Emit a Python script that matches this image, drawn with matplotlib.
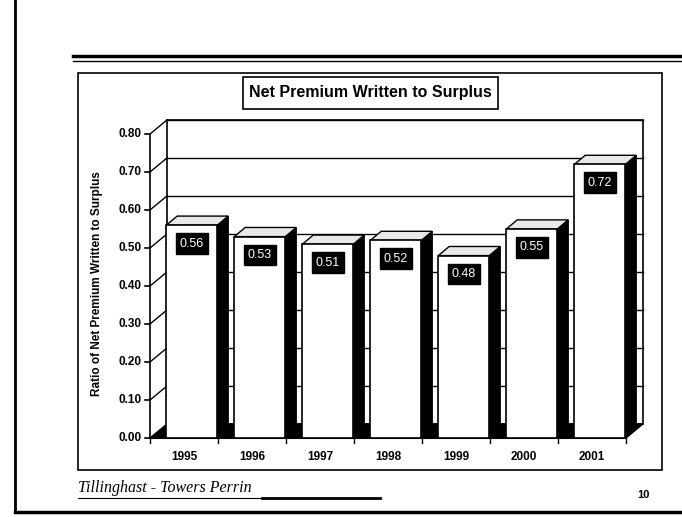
import matplotlib
matplotlib.use("Agg")
import matplotlib.pyplot as plt
from matplotlib.patches import Polygon, Rectangle

# data
years = ["1995", "1996", "1997", "1998", "1999", "2000", "2001"]
ratios = [0.56, 0.53, 0.51, 0.52, 0.48, 0.55, 0.72]
yticks = [0.0, 0.1, 0.2, 0.3, 0.4, 0.5, 0.6, 0.7, 0.8]

W, H = 682, 517
fig = plt.figure(figsize=(W / 100, H / 100), dpi=100)
fig.patch.set_facecolor("white")

# page furniture drawn in pixel space
page = fig.add_axes([0, 0, 1, 1])
page.set_xlim(0, W)
page.set_ylim(H, 0)
page.axis("off")
page.plot([15, 15], [0, 512], color="black", lw=2.0)
page.plot([15, W], [512, 512], color="black", lw=2.5)
page.plot([73, W], [56, 56], color="black", lw=2.5)
page.plot([73, W], [61, 61], color="black", lw=1.0)
page.add_patch(Rectangle((78, 73), 584, 397, fill=False, ec="black", lw=1.2))
page.add_patch(Rectangle((243, 77), 255, 32, fc="white", ec="black", lw=1.2))
page.text(370, 93, "Net Premium Written to Surplus", ha="center", va="center",
          fontsize=11.5, fontweight="bold", family="Liberation Sans")
page.text(97, 284, "Ratio of Net Premium Written to Surplus", rotation=90,
          ha="center", va="center", fontsize=8.5, fontweight="bold",
          family="Liberation Sans")
page.text(78, 488, "Tillinghast - Towers Perrin", ha="left", va="center",
          fontsize=11.5, style="italic", family="Liberation Serif")
page.plot([78, 262], [498, 498], color="black", lw=0.8)
page.plot([262, 380], [498, 498], color="black", lw=2.0)
page.text(643, 495, "10", ha="center", va="center", fontsize=8,
          fontweight="bold", family="Liberation Sans")

# front plane of the pseudo-3D plot
ax = fig.add_axes([150 / W, (H - 438) / H, 476 / W, 304 / H])
ax.set_xlim(0, len(years))
ax.set_ylim(0, 0.8)
ax.axis("off")

n = len(years)
wdx, wdy = 0.25, 0.037      # depth of the walls
bdx, bdy = 0.16, 0.024      # depth of each bar
bar_off, bar_w = 0.24, 0.75

kw = dict(clip_on=False)

# back wall with gridlines
ax.add_patch(Polygon([(wdx, wdy), (n + wdx, wdy), (n + wdx, 0.8 + wdy), (wdx, 0.8 + wdy)],
                     closed=True, fc="white", ec="black", lw=1.2, zorder=1, **kw))
for t in yticks[1:]:
    ax.plot([wdx, n + wdx], [t + wdy, t + wdy], color="black", lw=1.0, zorder=1.5, **kw)
    ax.plot([0, wdx], [t, t + wdy], color="black", lw=1.0, zorder=1.5, **kw)

# floor
ax.add_patch(Polygon([(0, 0), (n, 0), (n + wdx, wdy), (wdx, wdy)],
                     closed=True, fc="black", ec="black", lw=1.0, zorder=2, **kw))

# front axis, ticks and labels
ax.plot([0, 0], [0, 0.8], color="black", lw=1.2, zorder=2, **kw)
for t in yticks:
    ax.plot([-0.07, 0], [t, t], color="black", lw=1.2, zorder=2, **kw)
    ax.text(-0.12, t, f"{t:.2f}", ha="right", va="center", fontsize=8.5,
            fontweight="bold", family="Liberation Sans", **kw)
ax.plot([0, n], [0, 0], color="black", lw=1.5, zorder=2, **kw)
for i in range(n + 1):
    ax.plot([i, i], [0, -0.012], color="black", lw=1.0, zorder=2, **kw)
for i, yr in enumerate(years):
    ax.text(i + 0.5, -0.05, yr, ha="center", va="center", fontsize=8.5,
            fontweight="bold", family="Liberation Sans", **kw)

# bars: dark side, top face, white front, value tag
for i, v in enumerate(ratios):
    x0 = i + bar_off
    x1 = x0 + bar_w
    ax.add_patch(Polygon([(x1, 0), (x1 + bdx, bdy), (x1 + bdx, v + bdy), (x1, v)],
                         closed=True, fc="black", ec="black", lw=1.0, zorder=3, **kw))
    ax.add_patch(Polygon([(x0, v), (x1, v), (x1 + bdx, v + bdy), (x0 + bdx, v + bdy)],
                         closed=True, fc="#e8e8e8", ec="black", lw=1.0, zorder=3, **kw))
    ax.add_patch(Rectangle((x0, 0), bar_w, v, fc="white", ec="black", lw=1.2,
                           zorder=4, **kw))
    cx = x0 + bar_w / 2
    ax.add_patch(Rectangle((cx - 0.235, v - 0.076), 0.47, 0.055, fc="black",
                           ec="black", zorder=5, **kw))
    ax.text(cx, v - 0.0485, f"{v:.2f}", ha="center", va="center", color="white",
            fontsize=9, family="Liberation Sans", zorder=6, **kw)

fig.savefig("out.png", dpi=100)
